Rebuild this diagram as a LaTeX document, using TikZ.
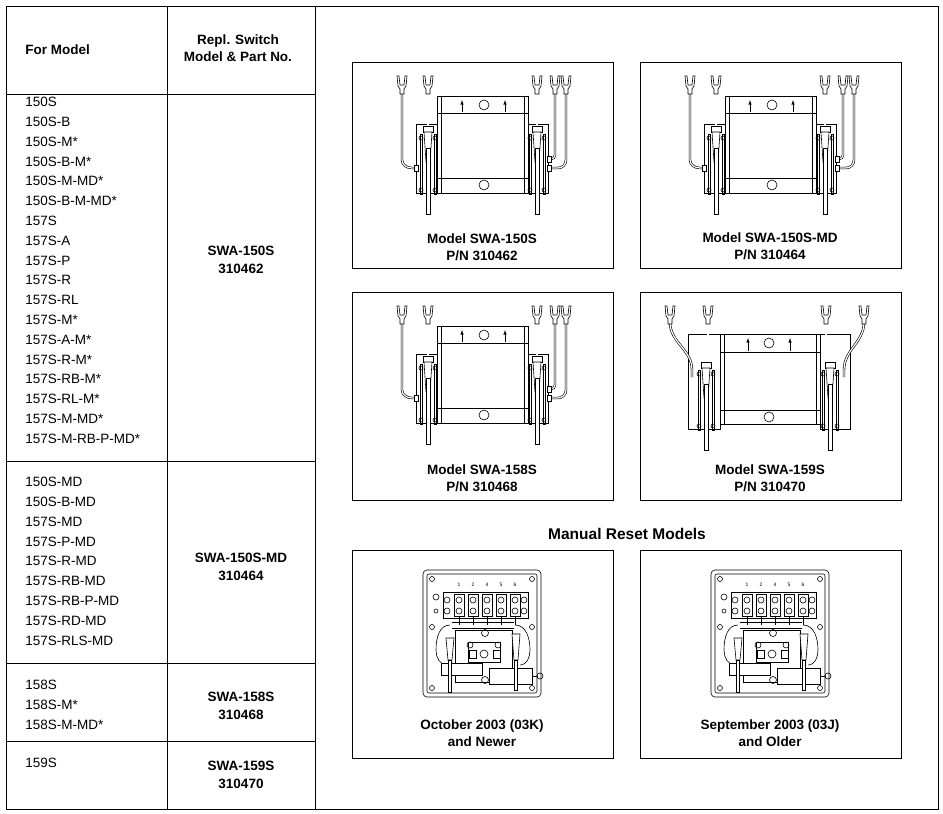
\documentclass[tikz,border=0pt]{standalone}
\usepackage{fontspec}
\setmainfont{Liberation Sans}
\begin{document}
\begin{tikzpicture}[x=1pt,y=-1pt,line width=0.6pt,
  txt/.style={font=\fontsize{13.5}{15}\selectfont,anchor=west,inner sep=0},
  btxt/.style={font=\bfseries\fontsize{13.5}{17.5}\selectfont,align=center,inner sep=0},
  dr/.style={line width=0.6pt},
  spade/.pic={\draw[dr,fill=white] (-5,0)--(-4,10)--(-2,13)--(-2,18)--(2,18)--(2,13)--(4,10)--(5,0)--(3,0)--(2,9)--(-2,9)--(-3,0)--cycle;},
  post/.pic={\draw[dr,fill=white] (-5,-2) rectangle (5,4);
     \draw[dr,fill=white] (-4,4)--(4,4)--(2,34)--(-2,34)--cycle;
     \draw[dr,fill=white] (-1.8,20) rectangle (1.8,86);
     \draw[dr] (-8,6) rectangle (-6,66); \draw[dr] (6,6) rectangle (8,66);
     \draw[dr] (-7,10) circle(2); \draw[dr] (7,10) circle(2);\draw[dr] (-7,62) circle(2); \draw[dr] (7,62) circle(2);},
  swbody/.pic={
    \draw[dr] (85,34) rectangle (176,131); \draw[dr] (89,34)--(89,131); \draw[dr] (172,34)--(172,131);
    \draw[dr] (85,51)--(176,51); \draw[dr] (85,116)--(176,116);
    \draw[dr,-latex] (110,50)--(110,38); \draw[dr,-latex] (153,50)--(153,38);
    \draw[dr] (132,43) circle(5); \draw[dr] (132,123) circle(5);},
  wires/.pic={
    \draw[dr,double=white,double distance=1.2pt] (50,30)--(50,98) to[out=-90,in=180] (60,106)--(64,106);
    \draw[dr,double=white,double distance=1.2pt] (76,30)--(76,64);
    \draw[dr,double=white,double distance=1.2pt] (185,30)--(185,64);
    \draw[dr,double=white,double distance=1.2pt] (203,30)--(203,93) to[out=-90,in=0] (199,97)--(196,97);
    \draw[dr,double=white,double distance=1.2pt] (214,30)--(214,98) to[out=-90,in=0] (206,106)--(196,106);
    \foreach \x in {50,76,185,203,214} \pic at (\x,14) {spade};
    \draw[dr,fill=white] (62,103) rectangle (66,109); \draw[dr,fill=white] (195,94) rectangle (199,100); \draw[dr,fill=white] (195,103) rectangle (199,109);},
  switch/.pic={
    \draw[dr,fill=white] (64,62) rectangle (85,131); \draw[dr,fill=white] (176,62) rectangle (196,131);
    \pic {wires};
    \pic at (76,66) {post}; \pic at (185,66) {post};
    \pic {swbody};},
  bigswitch/.pic={
    \draw[dr,fill=white] (48,42) rectangle (80,137); \draw[dr,fill=white] (180,42) rectangle (210,137);
    \draw[dr,double=white,double distance=1.2pt] (30,30) to[out=-90,in=90] (52,78)--(52,85);
    \draw[dr,double=white,double distance=1.2pt] (68,30)--(68,70);
    \draw[dr,double=white,double distance=1.2pt] (186,30)--(186,70);
    \draw[dr,double=white,double distance=1.2pt] (224,30) to[out=-90,in=90] (204,78)--(204,85);
    \foreach \x in {30,68,186,224} \pic at (\x,14) {spade};
    \pic at (66,72) {post}; \pic at (190,72) {post};
    \draw[dr,fill=white] (80,42) rectangle (180,132); \draw[dr] (84,42)--(84,132); \draw[dr] (176,42)--(176,132);
    \draw[dr] (80,60)--(180,60); \draw[dr] (80,118)--(180,118);
    \draw[dr,-latex] (108,59)--(108,46); \draw[dr,-latex] (150,59)--(150,46);
    \draw[dr] (129,51) circle(5); \draw[dr] (129,125) circle(5);},
  reset/.pic={
    \draw[dr,rounded corners=4pt] (71,20) rectangle (189,147);
    \draw[dr,rounded corners=2pt] (75,24) rectangle (185,143);
    \foreach \p in {(80,29),(180,29),(80,138),(180,138),(80,77),(180,77)} \draw[dr] \p circle(2.5);
    \draw[dr] (84,47) circle(3); \draw[dr] (84,61) circle(2);
    \draw[dr] (91,42) rectangle (176,68);
    \foreach \i/\l in {0/1,1/2,2/4,3/5,4/6} {
      \node[font=\fontsize{5}{5}\selectfont,inner sep=0] at (107+\i*14,35) {\l};
      \draw[dr] (102+\i*14,44) rectangle (112+\i*14,66);
      \draw[dr] (107+\i*14,50) circle(3); \draw[dr] (107+\i*14,61) circle(3);
      \draw[dr] (107+\i*14,66)--(107+\i*14,75);}
    \draw[dr] (95,50) circle(3); \draw[dr] (95,61) circle(3); \draw[dr] (172,50) circle(3); \draw[dr] (172,61) circle(3);
    \draw[dr] (98,75) to[out=180,in=90] (84,100) to[out=-90,in=180] (95,115);
    \draw[dr] (163,75) to[out=0,in=90] (178,100) to[out=-90,in=0] (168,115);
    \draw[dr] (100,72)--(162,72); \draw[dr] (100,78)--(162,78);
    \draw[dr] (103,80) rectangle (160,132);
    \draw[dr] (116,92) rectangle (148,112);
    \draw[dr] (133,83) circle(3.5); \draw[dr] (133,130) circle(3.5);
    \draw[dr] (118,95) circle(3); \draw[dr] (146,95) circle(3); \draw[dr] (132,104) circle(4);
    \draw[dr] (117,100) rectangle (124,108); \draw[dr] (141,100) rectangle (148,108);
    \draw[dr,fill=white] (89,113) rectangle (130,125);
    \draw[dr,fill=white] (137,118) rectangle (180,134);
    \draw[dr,fill=white] (94,88)--(102,88)--(100,110)--(96,110)--cycle;
    \draw[dr,fill=white] (96,110) rectangle (99,142);
    \draw[dr,fill=white] (160,84)--(168,84)--(166,110)--(162,110)--cycle;
    \draw[dr,fill=white] (162,110) rectangle (165,140);
    \draw[dr] (180,126)--(186,126); \draw[dr] (188,126) circle(3);},
]
\useasboundingbox (0,0) rectangle (943,814);
% table
\draw[line width=1pt] (6,6) rectangle (938,809);
\draw[line width=0.8pt] (167,6)--(167,809) (315,6)--(315,809);
\draw[line width=0.8pt] (6,94)--(315,94) (6,461)--(315,461) (6,663)--(315,663) (6,741)--(315,741);
\node[btxt,anchor=west] (hm) at (25,50) {For Model};
\node[btxt] (hr) at (238,48) {Repl. Switch\\Model \& Part No.};
\foreach \t [count=\i from 0] in {150S,150S-B,150S-M*,150S-B-M*,150S-M-MD*,150S-B-M-MD*,157S,157S-A,157S-P,157S-R,157S-RL,157S-M*,157S-A-M*,157S-R-M*,157S-RB-M*,157S-RL-M*,157S-M-MD*,157S-M-RB-P-MD*}
  \node[txt] (a\i) at (25,102+\i*19.8) {\t};
\foreach \t [count=\i from 0] in {150S-MD,150S-B-MD,157S-MD,157S-P-MD,157S-R-MD,157S-RB-MD,157S-RB-P-MD,157S-RD-MD,157S-RLS-MD}
  \node[txt] (b\i) at (25,482+\i*19.8) {\t};
\foreach \t [count=\i from 0] in {158S,158S-M*,158S-M-MD*}
  \node[txt] (c\i) at (25,685+\i*19.8) {\t};
\node[txt] (d0) at (25,763) {159S};
\node[btxt] (r1) at (241,260) {SWA-150S\\310462};
\node[btxt] (r2) at (241,567) {SWA-150S-MD\\310464};
\node[btxt] (r3) at (241,706) {SWA-158S\\310468};
\node[btxt] (r4) at (241,775) {SWA-159S\\310470};
% boxes
\draw[line width=0.9pt] (352,62) rectangle (613,268);
\draw[line width=0.9pt] (640,62) rectangle (901,268);
\draw[line width=0.9pt] (352,292) rectangle (613,500);
\draw[line width=0.9pt] (640,292) rectangle (901,500);
\draw[line width=0.9pt] (352,550) rectangle (613,758);
\draw[line width=0.9pt] (640,550) rectangle (901,758);
\pic at (352,62) {switch};
\pic at (640,62) {switch};
\pic at (352,292) {switch};
\pic at (640,292) {bigswitch};
\pic at (352,550) {reset};
\pic at (640,550) {reset};
\node[btxt] (l1) at (482,247) {Model SWA-150S\\P/N 310462};
\node[btxt] (l2) at (770,246) {Model SWA-150S-MD\\P/N 310464};
\node[btxt] (l3) at (482,478) {Model SWA-158S\\P/N 310468};
\node[btxt] (l4) at (770,478) {Model SWA-159S\\P/N 310470};
\node[btxt,font=\bfseries\fontsize{15.5}{18}\selectfont] (mr) at (627,534) {Manual Reset Models};
\node[btxt] (l5) at (482,733) {October 2003 (03K)\\and Newer};
\node[btxt] (l6) at (770,733) {September 2003 (03J)\\and Older};
\end{tikzpicture}
\end{document}
